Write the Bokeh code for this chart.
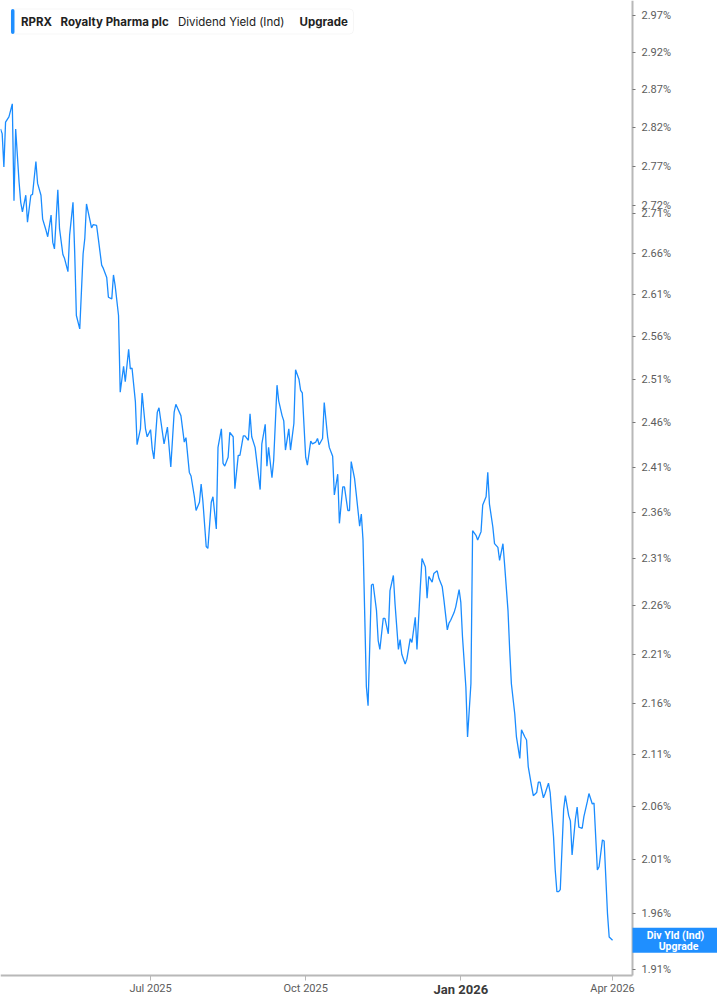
import json
import math
import pandas as pd
from bokeh.plotting import figure
from bokeh.models import (Range1d, FixedTicker, CustomJSTickFormatter, Label,
                          BoxAnnotation, ColumnDataSource)
from bokeh.embed import file_html
from bokeh.resources import INLINE

# ---------------- data ----------------
dates = [
    "2025-04-03", "2025-04-04", "2025-04-05", "2025-04-06", "2025-04-08", "2025-04-10", "2025-04-11",
    "2025-04-12", "2025-04-14", "2025-04-15", "2025-04-16", "2025-04-18", "2025-04-19", "2025-04-21",
    "2025-04-22", "2025-04-24", "2025-04-25", "2025-04-27", "2025-04-28", "2025-04-30",
    "2025-05-01", "2025-05-03", "2025-05-04", "2025-05-05", "2025-05-07", "2025-05-08", "2025-05-10",
    "2025-05-11", "2025-05-13", "2025-05-14", "2025-05-16", "2025-05-17", "2025-05-18", "2025-05-20",
    "2025-05-22", "2025-05-23", "2025-05-24", "2025-05-25", "2025-05-27", "2025-05-28", "2025-05-30",
    "2025-05-31",
    "2025-06-02", "2025-06-03", "2025-06-05", "2025-06-06", "2025-06-08", "2025-06-09", "2025-06-10",
    "2025-06-12", "2025-06-13", "2025-06-15", "2025-06-16", "2025-06-18", "2025-06-19", "2025-06-20",
    "2025-06-22", "2025-06-23", "2025-06-25", "2025-06-26", "2025-06-28", "2025-06-29",
    "2025-07-01", "2025-07-02", "2025-07-03", "2025-07-05", "2025-07-06", "2025-07-09", "2025-07-11",
    "2025-07-13", "2025-07-15", "2025-07-16", "2025-07-19", "2025-07-21", "2025-07-22", "2025-07-24",
    "2025-07-25", "2025-07-27", "2025-07-28", "2025-07-30", "2025-07-31",
    "2025-08-01", "2025-08-03", "2025-08-04", "2025-08-06", "2025-08-07", "2025-08-09", "2025-08-10",
    "2025-08-12", "2025-08-13", "2025-08-14", "2025-08-16", "2025-08-17", "2025-08-19", "2025-08-20",
    "2025-08-22", "2025-08-23", "2025-08-25", "2025-08-26", "2025-08-28", "2025-08-29", "2025-08-30",
    "2025-09-01", "2025-09-04", "2025-09-05", "2025-09-07", "2025-09-08", "2025-09-09", "2025-09-11",
    "2025-09-12", "2025-09-14", "2025-09-15", "2025-09-17", "2025-09-18", "2025-09-19", "2025-09-21",
    "2025-09-22", "2025-09-24", "2025-09-25", "2025-09-27", "2025-09-28", "2025-09-29",
    "2025-10-01", "2025-10-02", "2025-10-04", "2025-10-05", "2025-10-07", "2025-10-08", "2025-10-09",
    "2025-10-11", "2025-10-12", "2025-10-14", "2025-10-15", "2025-10-17", "2025-10-18", "2025-10-20",
    "2025-10-21", "2025-10-23", "2025-10-24", "2025-10-26", "2025-10-27", "2025-10-28", "2025-10-30",
    "2025-10-31",
    "2025-11-02", "2025-11-03", "2025-11-04", "2025-11-06", "2025-11-07", "2025-11-09", "2025-11-10",
    "2025-11-12", "2025-11-13", "2025-11-14", "2025-11-16", "2025-11-17", "2025-11-19", "2025-11-20",
    "2025-11-22", "2025-11-23", "2025-11-25", "2025-11-26", "2025-11-27", "2025-11-29", "2025-11-30",
    "2025-12-02", "2025-12-03", "2025-12-05", "2025-12-06", "2025-12-08", "2025-12-09", "2025-12-11",
    "2025-12-12", "2025-12-13", "2025-12-15", "2025-12-16", "2025-12-18", "2025-12-19", "2025-12-21",
    "2025-12-22", "2025-12-24", "2025-12-25", "2025-12-26", "2025-12-28", "2025-12-29", "2025-12-31",
    "2026-01-01", "2026-01-02", "2026-01-04", "2026-01-05", "2026-01-07", "2026-01-08", "2026-01-10",
    "2026-01-11", "2026-01-13", "2026-01-14", "2026-01-16", "2026-01-17", "2026-01-18", "2026-01-20",
    "2026-01-21", "2026-01-23", "2026-01-24", "2026-01-26", "2026-01-27", "2026-01-29", "2026-01-30",
    "2026-01-31",
    "2026-02-02", "2026-02-03", "2026-02-05", "2026-02-06", "2026-02-08", "2026-02-09", "2026-02-10",
    "2026-02-12", "2026-02-13", "2026-02-15", "2026-02-16", "2026-02-17", "2026-02-19", "2026-02-20",
    "2026-02-22", "2026-02-23", "2026-02-25", "2026-02-26", "2026-02-27", "2026-02-28",
    "2026-03-01", "2026-03-03", "2026-03-04", "2026-03-06", "2026-03-07", "2026-03-08", "2026-03-10",
    "2026-03-11", "2026-03-12", "2026-03-14", "2026-03-15", "2026-03-17", "2026-03-18", "2026-03-20",
    "2026-03-21", "2026-03-23", "2026-03-24", "2026-03-26", "2026-03-27", "2026-03-29", "2026-03-30",
    "2026-04-01",
]

div_yield = [
    2.818, 2.812, 2.769, 2.827, 2.834, 2.851, 2.726, 2.818, 2.750, 2.724, 2.712, 2.733, 2.699, 2.733,
    2.734, 2.776, 2.748, 2.733, 2.703, 2.689,
    2.681, 2.708, 2.674, 2.666, 2.740, 2.691, 2.659, 2.654, 2.638, 2.683, 2.724, 2.662, 2.585, 2.569,
    2.660, 2.679, 2.722, 2.712, 2.692, 2.696, 2.695, 2.679,
    2.646, 2.642, 2.631, 2.607, 2.605, 2.634, 2.621, 2.585, 2.495, 2.525, 2.507, 2.545, 2.522, 2.523,
    2.484, 2.435, 2.453, 2.494, 2.453, 2.444,
    2.452, 2.430, 2.419, 2.472, 2.477, 2.436, 2.455, 2.410, 2.472, 2.481, 2.468, 2.438, 2.443, 2.404,
    2.400, 2.377, 2.362, 2.371, 2.391,
    2.373, 2.323, 2.321, 2.371, 2.377, 2.342, 2.432, 2.453, 2.414, 2.411, 2.421, 2.449, 2.444, 2.386,
    2.423, 2.423, 2.445, 2.445, 2.440, 2.470, 2.444,
    2.432, 2.385, 2.436, 2.458, 2.411, 2.432, 2.398, 2.417, 2.503, 2.485, 2.468, 2.462, 2.429, 2.453,
    2.429, 2.459, 2.521, 2.510, 2.497, 2.494,
    2.421, 2.412, 2.439, 2.436, 2.438, 2.442, 2.435, 2.442, 2.483, 2.444, 2.432, 2.422, 2.379, 2.402,
    2.348, 2.388, 2.388, 2.362, 2.362, 2.416, 2.397, 2.380,
    2.345, 2.358, 2.330, 2.177, 2.158, 2.282, 2.283, 2.255, 2.224, 2.215, 2.247, 2.247, 2.231, 2.276,
    2.292, 2.262, 2.215, 2.225, 2.210, 2.200, 2.205,
    2.226, 2.222, 2.248, 2.215, 2.280, 2.310, 2.301, 2.268, 2.291, 2.285, 2.294, 2.297, 2.289, 2.280,
    2.266, 2.235, 2.242, 2.245, 2.253, 2.259, 2.277,
    2.264, 2.228, 2.177, 2.127, 2.180, 2.340, 2.335, 2.330, 2.339, 2.368, 2.377, 2.404, 2.369, 2.344,
    2.326, 2.322, 2.308, 2.326, 2.303, 2.255, 2.214, 2.180,
    2.150, 2.127, 2.106, 2.134, 2.127, 2.124, 2.098, 2.079, 2.070, 2.073, 2.083, 2.083, 2.068, 2.072,
    2.082, 2.073, 2.031, 2.000, 1.980, 1.980,
    1.982, 2.057, 2.070, 2.051, 2.046, 2.014, 2.048, 2.059, 2.040, 2.039, 2.050, 2.064, 2.072, 2.062,
    2.063, 2.000, 2.003, 2.028, 2.027, 1.960, 1.939,
    1.936,
]

y_ticks = [2.97, 2.92, 2.87, 2.82, 2.77, 2.72, 2.71, 2.66, 2.61, 2.56, 2.51, 2.46, 2.41,
           2.36, 2.31, 2.26, 2.21, 2.16, 2.11, 2.06, 2.01, 1.96, 1.91]
x_tick_dates = ["2025-07-01", "2025-10-01", "2026-01-01", "2026-04-01"]
x_tick_labels = ["Jul 2025", "Oct 2025", "Jan 2026", "Apr 2026"]
x_tick_bold = [False, False, True, False]

header_words = ["RPRX", "Royalty Pharma plc", "Dividend Yield (Ind)", "Upgrade"]
header_styles = ["bold", "bold", "normal", "bold"]
header_x = [20.5, 60, 177.5, 299]
tag_lines = ["Div Yld (Ind)", "Upgrade"]

# ---------------- styling / layout ----------------
LINE = "#1a8cff"
TAG = "#1f8fff"
AXIS = "#b8b8b8"
LABEL = "#5c5c5c"

W, H = 717, 1005
PLOT_W, PLOT_H = 632, 975          # the chart area inside the canvas
Y_LO, Y_HI = 1.9047, 2.9907         # values at the bottom / top of the chart area
X_LO = pd.Timestamp("2025-04-03")
X_END = pd.Timestamp("2026-04-12 20:00")  # date at the right edge of the chart area

# the frame spans the whole canvas; the axes sit at fixed locations inside it
x_full_end = X_LO + (X_END - X_LO) * (W / PLOT_W)
log_per_px = (math.log(Y_HI) - math.log(Y_LO)) / PLOT_H
y_full_lo = math.exp(math.log(Y_LO) - (H - PLOT_H) * log_per_px)

src = ColumnDataSource(dict(date=pd.to_datetime(dates), y=div_yield))

p = figure(width=W, height=H, x_axis_type="datetime", y_axis_type="log",
           y_axis_location="right",
           x_range=Range1d(X_LO, x_full_end), y_range=Range1d(y_full_lo, Y_HI),
           output_backend="svg", toolbar_location=None, min_border=0)
p.outline_line_color = None
p.background_fill_color = "white"
p.border_fill_color = "white"
p.xgrid.visible = False
p.ygrid.visible = False

p.line("date", "y", source=src, line_color=LINE, line_width=1.3)

x_end_ms = float(X_END.value // 10**6)
x_lo_ms = float(X_LO.value // 10**6)

# ---- y axis (right, log) ----
yax = p.yaxis[0]
yax.fixed_location = x_end_ms
yax.bounds = (Y_LO, Y_HI)
yax.ticker = FixedTicker(ticks=y_ticks)
yax.formatter = CustomJSTickFormatter(code="return tick.toFixed(2) + '%';")
yax.axis_line_color = AXIS
yax.axis_line_width = 2
yax.major_tick_line_color = "#777777"
yax.major_tick_out = 3
yax.major_tick_in = 0
yax.minor_tick_line_color = None
yax.major_label_text_font = "Roboto"
yax.major_label_text_font_size = "11px"
yax.major_label_text_color = LABEL
yax.major_label_standoff = 6

# ---- x axis ----
xax = p.xaxis[0]
xax.fixed_location = Y_LO
xax.bounds = (x_lo_ms, x_end_ms)
tick_ms = [int(pd.Timestamp(d).value // 10**6) for d in x_tick_dates]
xax.ticker = FixedTicker(ticks=tick_ms)
normal_map = {str(t): ("" if b else l) for t, l, b in zip(tick_ms, x_tick_labels, x_tick_bold)}
js = "const m = %s; const k = String(Math.round(tick)); return (k in m) ? m[k] : '';"
xax.formatter = CustomJSTickFormatter(code=js % json.dumps(normal_map))
xax.axis_line_color = AXIS
xax.axis_line_width = 2
xax.major_tick_line_color = AXIS
xax.major_tick_out = 5
xax.major_tick_in = 0
xax.minor_tick_line_color = None
xax.major_label_text_font = "Roboto"
xax.major_label_text_font_size = "11px"
xax.major_label_text_color = LABEL
xax.major_label_standoff = 1

# bold year label
for d, l, b in zip(x_tick_dates, x_tick_labels, x_tick_bold):
    if b:
        p.add_layout(Label(x=pd.Timestamp(d), y=H - 989, x_units="data", y_units="screen",
                           text=l, text_font="Roboto", text_font_style="bold",
                           text_font_size="13px", text_color="#3a3a3a",
                           text_align="center", text_baseline="middle"))

# ---- last-value tag on the right axis ----
last = div_yield[-1]
p.add_layout(BoxAnnotation(left=PLOT_W, right=W,
                           top=last * math.exp(12.5 * log_per_px),
                           bottom=last * math.exp(-12.5 * log_per_px),
                           left_units="screen", right_units="screen",
                           top_units="data", bottom_units="data",
                           fill_color=TAG, fill_alpha=1.0, line_color=None))
tag_offsets = [4.5, -6.5]     # pixels above / below the last value
tag_x = [675, 678]
for line_txt, off, tx in zip(tag_lines, tag_offsets, tag_x):
    p.add_layout(Label(x=tx, y=last * math.exp(off * log_per_px),
                       x_units="screen", y_units="data",
                       text=line_txt, text_font="Roboto", text_font_style="bold",
                       text_font_size="10.5px", text_color="white",
                       text_align="center", text_baseline="middle"))

# ---- header box (top-left) ----
p.add_layout(BoxAnnotation(left=10.5, right=353, top=H - 8.5, bottom=H - 33.5,
                           left_units="screen", right_units="screen",
                           top_units="screen", bottom_units="screen",
                           fill_color="white", fill_alpha=1.0,
                           line_color="#e2e2e2", line_width=1, border_radius=4))
p.add_layout(BoxAnnotation(left=10.5, right=14, top=H - 8.5, bottom=H - 33.5,
                           left_units="screen", right_units="screen",
                           top_units="screen", bottom_units="screen",
                           fill_color=TAG, fill_alpha=1.0, line_color=None,
                           border_radius=2))
for word, style, hx in zip(header_words, header_styles, header_x):
    p.add_layout(Label(x=hx, y=H - 21, x_units="screen", y_units="screen",
                       text=word, text_font="Inter", text_font_style=style,
                       text_font_size="11.5px", text_color="#222222",
                       text_baseline="middle", text_align="left"))

open("out.html", "w").write(file_html(p, INLINE))
